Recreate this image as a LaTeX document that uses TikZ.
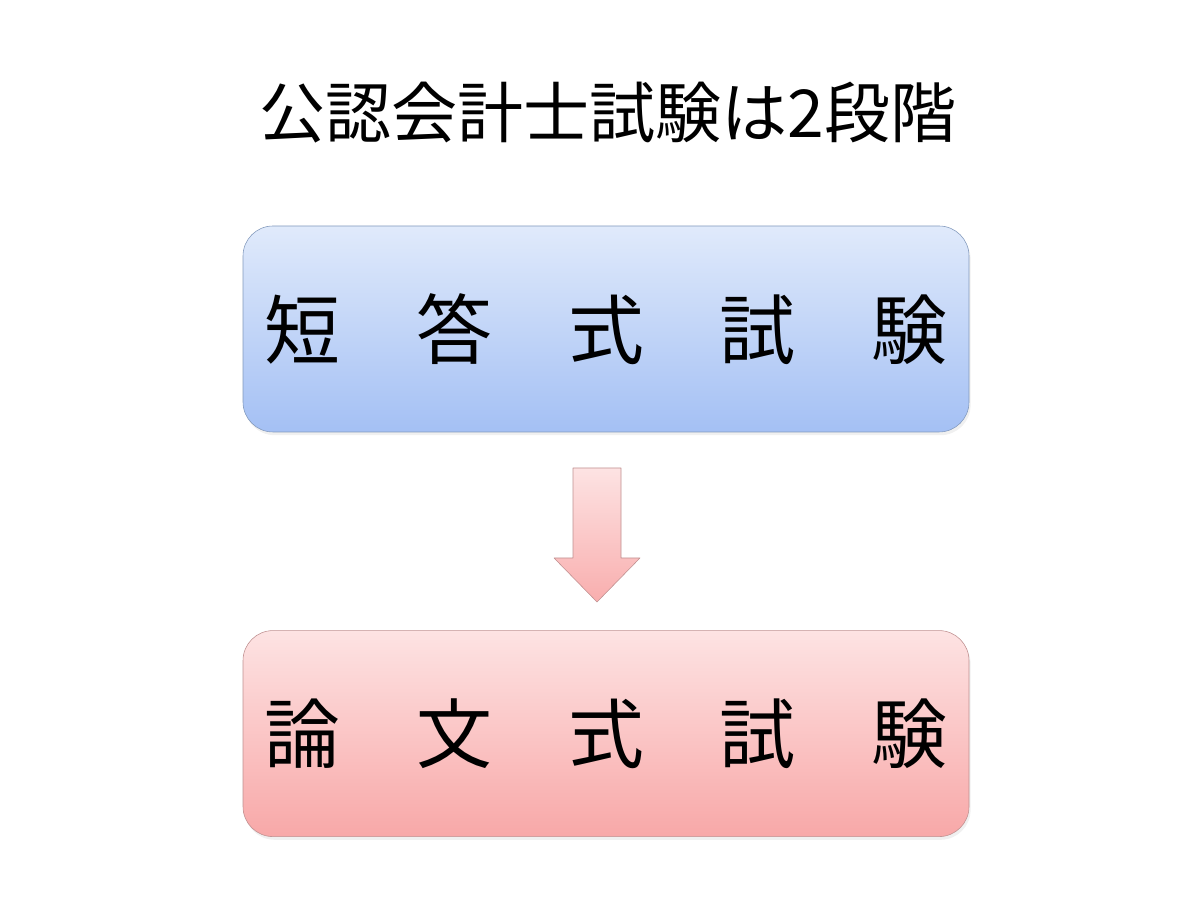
\documentclass[tikz,border=0pt]{standalone}
\usepackage{fontspec}
\setmainfont{Noto Sans CJK JP}
\usepackage{tikz}
\usepackage{xcolor}
\usetikzlibrary{positioning, shadows}

\definecolor{blueTop}{HTML}{E0EAFB}
\definecolor{blueBot}{HTML}{A4C0F4}
\definecolor{blueLine}{HTML}{8299BC}
\definecolor{pinkTop}{HTML}{FDE3E3}
\definecolor{pinkBot}{HTML}{F8A8A8}
\definecolor{pinkLine}{HTML}{BF9090}

\begin{document}
\begin{tikzpicture}[
            stage/.style={rectangle, rounded corners=0.75cm, minimum width=18.15cm, minimum height=5.15cm, align=center, font=\fontsize{54}{60}\selectfont, drop shadow={opacity=0.12, shadow xshift=0.04cm, shadow yshift=-0.08cm}},
            title/.style={font=\fontsize{47}{54}\selectfont}
        ]
\useasboundingbox (0,0) rectangle (30,22.5);

% Title
            \node[title] (head) at (15.2,19.675) {公認会計士試験は2段階};

% First stage
            \node[stage, draw=blueLine, top color=blueTop, bottom color=blueBot] (short) at (15.15,14.275) {短　答　式　試　験};

% Second stage
            \node[stage, draw=pinkLine, top color=pinkTop, bottom color=pinkBot] (essay) at (15.15,4.16) {論　文　式　試　験};

% Block arrow
            \draw[pinkLine, top color=pinkTop, bottom color=pinkBot!90!pinkTop, line join=round]
                (14.325,10.8) -- (15.525,10.8) -- (15.525,8.55) -- (16.0,8.55)
                -- (14.925,7.45) -- (13.85,8.55) -- (14.325,8.55) -- cycle;

        \end{tikzpicture}
\end{document}
